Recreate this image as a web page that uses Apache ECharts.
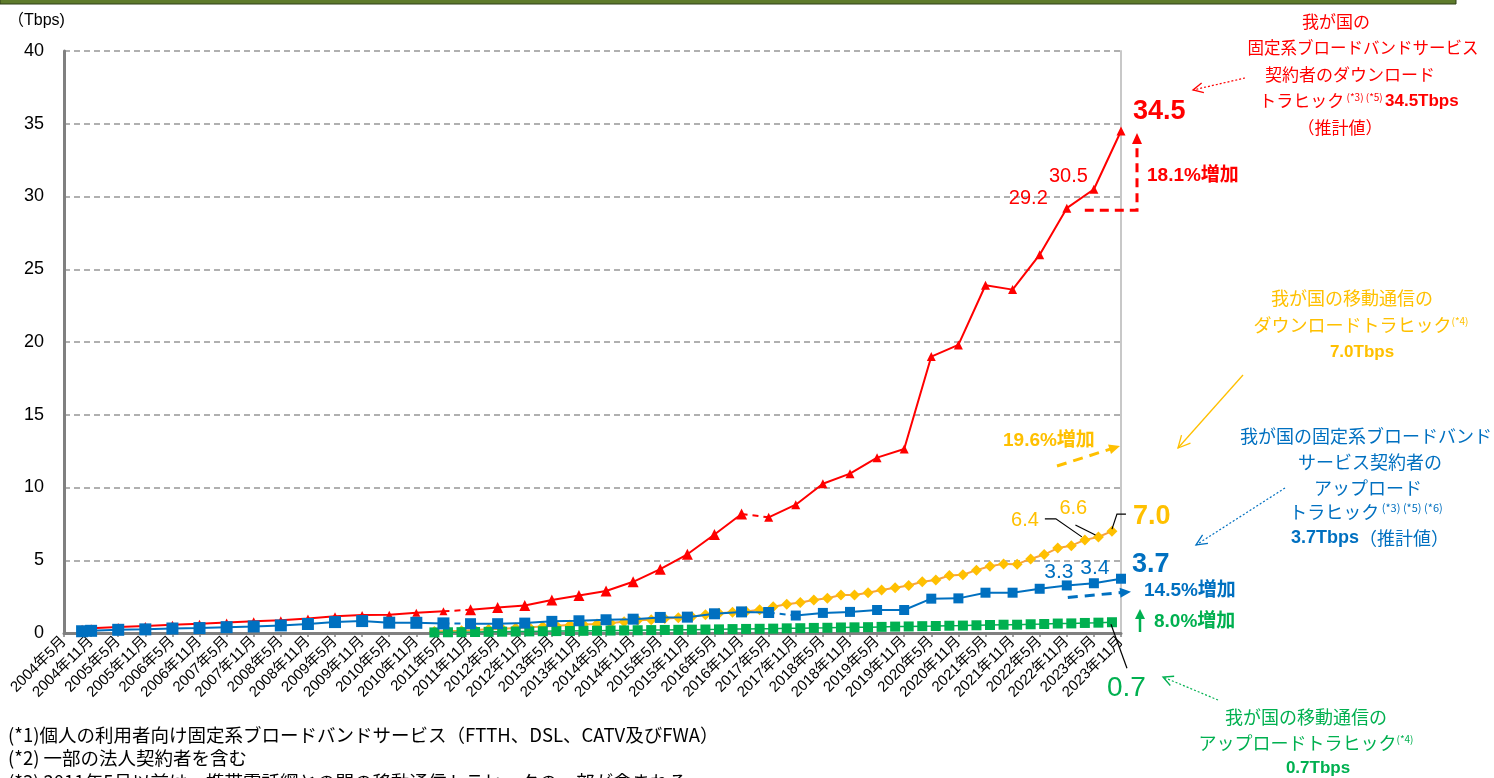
<!DOCTYPE html>
<html>
<head>
<meta charset="utf-8">
<title>ブロードバンドトラヒック</title>
<script src="https://cdn.jsdelivr.net/npm/echarts@6/dist/echarts.min.js"></script>
<style>
  html, body { margin: 0; padding: 0; background: #fff; }
  #chart { width: 1494px; height: 778px; }
</style>
</head>
<body>
<div id="chart"></div>
<script>
// 固定系ブロードバンド（半年ごと、最初だけ2004年9月）
const fixedDates = [
  "2004-09", "2004-11", "2005-05", "2005-11", "2006-05", "2006-11", "2007-05", "2007-11",
  "2008-05", "2008-11", "2009-05", "2009-11", "2010-05", "2010-11", "2011-05", "2011-11",
  "2012-05", "2012-11", "2013-05", "2013-11", "2014-05", "2014-11", "2015-05", "2015-11",
  "2016-05", "2016-11", "2017-05", "2017-11", "2018-05", "2018-11", "2019-05", "2019-11",
  "2020-05", "2020-11", "2021-05", "2021-11", "2022-05", "2022-11", "2023-05", "2023-11"
];
const fixedDown = [
  0.30, 0.32, 0.42, 0.48, 0.56, 0.64, 0.72, 0.81,
  0.88, 1.00, 1.15, 1.24, 1.26, 1.40, 1.50, 1.59,
  1.75, 1.89, 2.27, 2.57, 2.89, 3.52, 4.39, 5.41,
  6.77, 8.18, 7.95, 8.82, 10.26, 10.95, 12.05, 12.65,
  19.0, 19.8, 23.9, 23.6, 26.0, 29.2, 30.5, 34.5
];
const fixedUp = [
  0.12, 0.15, 0.22, 0.25, 0.31, 0.34, 0.40, 0.45,
  0.52, 0.62, 0.75, 0.82, 0.71, 0.70, 0.66, 0.64,
  0.64, 0.68, 0.80, 0.84, 0.91, 0.95, 1.07, 1.09,
  1.32, 1.45, 1.41, 1.20, 1.38, 1.45, 1.58, 1.58,
  2.36, 2.38, 2.77, 2.77, 3.04, 3.27, 3.42, 3.73
];
// この時点の次は点線でつなぐ（集計方法の変更）
const downBreaks = ["2011-05", "2016-11"];
const upBreaks = ["2011-05", "2017-05"];

// 移動通信（四半期ごと）
const mobileDates = [
  "2011-03", "2011-06", "2011-09", "2011-12",
  "2012-03", "2012-06", "2012-09", "2012-12",
  "2013-03", "2013-06", "2013-09", "2013-12",
  "2014-03", "2014-06", "2014-09", "2014-12",
  "2015-03", "2015-06", "2015-09", "2015-12",
  "2016-03", "2016-06", "2016-09", "2016-12",
  "2017-03", "2017-06", "2017-09", "2017-12",
  "2018-03", "2018-06", "2018-09", "2018-12",
  "2019-03", "2019-06", "2019-09", "2019-12",
  "2020-03", "2020-06", "2020-09", "2020-12",
  "2021-03", "2021-06", "2021-09", "2021-12",
  "2022-03", "2022-06", "2022-09", "2022-12",
  "2023-03", "2023-06", "2023-09"
];
const mobileDown = [
  0.10, 0.13, 0.16, 0.20,
  0.25, 0.29, 0.34, 0.39,
  0.45, 0.50, 0.55, 0.58,
  0.62, 0.68, 0.78, 0.88,
  0.91, 1.00, 1.05, 1.12,
  1.25, 1.35, 1.43, 1.48,
  1.59, 1.80, 1.98, 2.09,
  2.27, 2.39, 2.61, 2.61,
  2.77, 2.95, 3.11, 3.27,
  3.52, 3.64, 3.95, 4.00,
  4.32, 4.59, 4.75, 4.73,
  5.09, 5.39, 5.84, 6.00,
  6.40, 6.60, 7.00
];
const mobileUp = [
  0.04, 0.05, 0.06, 0.07,
  0.08, 0.09, 0.10, 0.11,
  0.12, 0.13, 0.14, 0.15,
  0.16, 0.17, 0.18, 0.19,
  0.20, 0.21, 0.22, 0.23,
  0.24, 0.25, 0.27, 0.28,
  0.29, 0.30, 0.32, 0.33,
  0.35, 0.36, 0.38, 0.39,
  0.40, 0.42, 0.44, 0.45,
  0.47, 0.48, 0.50, 0.51,
  0.53, 0.55, 0.57, 0.57,
  0.60, 0.62, 0.65, 0.66,
  0.69, 0.71, 0.74
];

const xTickLabels = [
  "2004年5月", "2004年11月", "2005年5月", "2005年11月", "2006年5月", "2006年11月",
  "2007年5月", "2007年11月", "2008年5月", "2008年11月", "2009年5月", "2009年11月",
  "2010年5月", "2010年11月", "2011年5月", "2011年11月", "2012年5月", "2012年11月",
  "2013年5月", "2013年11月", "2014年5月", "2014年11月", "2015年5月", "2015年11月",
  "2016年5月", "2016年11月", "2017年5月", "2017年11月", "2018年5月", "2018年11月",
  "2019年5月", "2019年11月", "2020年5月", "2020年11月", "2021年5月", "2021年11月",
  "2022年5月", "2022年11月", "2023年5月", "2023年11月"
];

const RED = "#FF0000", BLUE = "#0070C0", YELLOW = "#FFC000", ORANGE = "#F7A23E", GREEN = "#00B050";
const LATIN = '"Liberation Sans","Noto Sans CJK JP",sans-serif';
const JP = '"Noto Sans CJK JP",sans-serif';

// 2004年5月からの月数
const mi = s => { const [y, m] = s.split("-").map(Number); return (y - 2004) * 12 + (m - 5); };
const toPairs = (dates, vals) => dates.map((d, i) => [mi(d), vals[i]]);

// 区切りごとに実線の系列を作り、区切りの間は点線でつなぐ
function splitSeries(name, dates, vals, breaks, st) {
  const data = toPairs(dates, vals);
  const ends = breaks.map(b => dates.indexOf(b)).concat([data.length - 1]);
  const out = [];
  let start = 0;
  ends.forEach((end, k) => {
    out.push({
      name: name, type: "line", z: st.z,
      data: data.slice(start, end + 1),
      symbol: st.symbol, symbolSize: st.sizes[k],
      lineStyle: { color: st.color, width: 2 },
      itemStyle: { color: st.color },
      silent: true
    });
    if (k < ends.length - 1) {
      out.push({
        name: name, type: "line", z: st.z,
        data: [data[end], data[end + 1]],
        symbol: "none",
        lineStyle: { color: st.color, width: 2, type: [6, 5] },
        silent: true
      });
    }
    start = end + 1;
  });
  return out;
}

const chart = echarts.init(document.getElementById("chart"));

const option = {
  animation: false,
  backgroundColor: "#fff",
  grid: { left: 64, right: 373, top: 51, bottom: 145, outerBoundsMode: "none", containLabel: false },
  xAxis: {
    type: "value", min: 0, max: 234, interval: 6,
    axisLine: { show: true, onZero: false, lineStyle: { color: "#808080", width: 3 } },
    axisTick: { show: true, length: 4, lineStyle: { color: "#808080", width: 1.5 } },
    splitLine: { show: false },
    axisLabel: {
      rotate: 45, margin: 6, fontSize: 15, color: "#000", fontFamily: LATIN,
      showMinLabel: true, showMaxLabel: true, hideOverlap: false,
      formatter: v => xTickLabels[Math.round(v / 6)] || ""
    }
  },
  yAxis: [
    {
      type: "value", min: 0, max: 40, interval: 5,
      axisLine: { show: true, lineStyle: { color: "#808080", width: 3 } },
      axisTick: { show: false },
      axisLabel: { margin: 20, fontSize: 18, color: "#000", fontFamily: LATIN },
      splitLine: { show: true, lineStyle: { color: "#969696", width: 1.5, type: [6, 4] } }
    },
    {
      type: "value", min: 0, max: 40, position: "right",
      axisLine: { show: true, lineStyle: { color: "#c8c8c8", width: 2 } },
      axisTick: { show: false }, axisLabel: { show: false }, splitLine: { show: false }
    }
  ],
  series: [
    {
      name: "移動通信ダウンロード", type: "line", z: 2, silent: true,
      data: toPairs(mobileDates, mobileDown),
      symbol: "diamond", symbolSize: 11,
      lineStyle: { color: ORANGE, width: 2 },
      itemStyle: { color: YELLOW }
    },
    {
      name: "移動通信アップロード", type: "line", z: 3, silent: true,
      data: toPairs(mobileDates, mobileUp),
      symbol: "rect", symbolSize: 10,
      lineStyle: { color: GREEN, width: 1.5 },
      itemStyle: { color: GREEN }
    }
  ]
    .concat(splitSeries("固定系ダウンロード", fixedDates, fixedDown, downBreaks,
      { color: RED, symbol: "triangle", sizes: [8, 11, 9], z: 4 }))
    .concat(splitSeries("固定系アップロード", fixedDates, fixedUp, upBreaks,
      { color: BLUE, symbol: "rect", sizes: [12, 11, 10], z: 5 }))
};

chart.setOption(option);

// ---- 注記（データ点の位置から計算） ----
const P = (d, v) => chart.convertToPixel({ xAxisIndex: 0, yAxisIndex: 0 }, [mi(d), v]);

function txt(x, y, text, color, size, bold, align, family) {
  return {
    type: "text", x: x, y: y, z: 100, silent: true,
    style: {
      text: text, fill: color, align: align || "left", verticalAlign: "middle",
      font: (bold ? "bold " : "") + size + "px " + (family || LATIN)
    }
  };
}
function richTxt(x, y, text, color, rich) {
  return {
    type: "text", x: x, y: y, z: 100, silent: true,
    style: { text: text, fill: color, align: "center", verticalAlign: "middle", rich: rich }
  };
}
function line(points, color, width, dash) {
  return {
    type: "polyline", z: 90, silent: true,
    shape: { points: points },
    style: { stroke: color, lineWidth: width, fill: null, lineDash: dash || null }
  };
}
function head(x1, y1, x2, y2, len, wid, color, filled) {
  const a = Math.atan2(y2 - y1, x2 - x1);
  const c = Math.cos(a), s = Math.sin(a);
  const p1 = [x2 - len * c + wid * s, y2 - len * s - wid * c];
  const p2 = [x2 - len * c - wid * s, y2 - len * s + wid * c];
  if (filled) {
    return { type: "polygon", z: 91, silent: true, shape: { points: [p1, [x2, y2], p2] }, style: { fill: color } };
  }
  return line([p1, [x2, y2], p2], color, 1.3);
}
function arrow(x1, y1, x2, y2, color, width, dash, filled, len, wid) {
  const a = Math.atan2(y2 - y1, x2 - x1);
  const back = filled ? len * 0.8 : 0;
  return [
    line([[x1, y1], [x2 - back * Math.cos(a), y2 - back * Math.sin(a)]], color, width, dash),
    head(x1, y1, x2, y2, len, wid, color, filled)
  ];
}

const g = [];

// 上部の帯
g.push({ type: "rect", z: 100, silent: true, shape: { x: 0, y: -2, width: 1456, height: 6 },
  style: { fill: "#5E7B2C", stroke: "#2F4016", lineWidth: 1 } });
g.push(txt(8, 21, "（Tbps)", "#000", 16, false, "left", LATIN));

// 固定系ダウンロード
const r1 = P("2022-11", 29.2), r2 = P("2023-05", 30.5), r3 = P("2023-11", 34.5);
g.push(txt(r1[0] - 19, r1[1] - 10, "29.2", RED, 20, false, "right"));
g.push(txt(r2[0] - 6, r2[1] - 13, "30.5", RED, 20, false, "right"));
g.push(txt(r3[0] + 12, r3[1] - 19, "34.5", RED, 27, true));
const xr = r3[0] + 16;
g.push(line([[r1[0] + 18, r1[1] + 2], [xr, r1[1] + 2], [xr, r3[1] + 10]], RED, 3, [9, 6]));
g.push(head(xr, r1[1], xr, r3[1] + 2, 11, 5, RED, true));
g.push(txt(xr + 10, r3[1] + 45, "18.1%増加", RED, 19, true));

// 移動通信ダウンロード
const y48 = P(mobileDates[48], mobileDown[48]);
const y49 = P(mobileDates[49], mobileDown[49]);
const y50 = P(mobileDates[50], mobileDown[50]);
g.push(txt(y48[0] - 46, y48[1] - 19, "6.4", YELLOW, 20, false, "right"));
g.push(line([[y48[0] - 40, y48[1] - 21], [y48[0] - 29, y48[1] - 21], [y48[0] - 3, y48[1] - 3]], "#000", 1.2));
g.push(txt(y49[0] - 39, y49[1] - 28, "6.6", YELLOW, 20, false, "left"));
g.push(line([[y49[0] - 23, y49[1] - 12], [y49[0] - 3, y49[1] - 2]], "#000", 1.2));
g.push(txt(y50[0] + 21, y50[1] - 15, "7.0", YELLOW, 27, true));
g.push(line([[y50[0], y50[1] - 2], [y50[0] + 5, y50[1] - 17], [y50[0] + 14, y50[1] - 17]], "#000", 1.2));
g.push(txt(1003, 441, "19.6%増加", YELLOW, 19, true));
arrow(1057, 466, 1120, 446, YELLOW, 3, [10, 7], true, 11, 5).forEach(e => g.push(e));

// 固定系アップロード
const b1 = P("2022-11", fixedUp[37]), b2 = P("2023-05", fixedUp[38]), b3 = P("2023-11", fixedUp[39]);
g.push(txt(b1[0] - 8, b1[1] - 13, "3.3", BLUE, 21, false, "center"));
g.push(txt(b2[0] + 1, b2[1] - 15, "3.4", BLUE, 21, false, "center"));
g.push(txt(b3[0] + 11, b3[1] - 14, "3.7", BLUE, 27, true));
g.push(txt(b3[0] + 23, b3[1] + 12, "14.5%増加", BLUE, 19, true));
arrow(b1[0] + 1, b1[1] + 12, b3[0] + 10, b3[1] + 13, BLUE, 3, [10, 7], true, 11, 5).forEach(e => g.push(e));

// 移動通信アップロード
const gr = P(mobileDates[50], mobileUp[50]);
const y0 = P("2023-11", 0)[1];
arrow(b3[0] + 19, y0 - 1, b3[0] + 19, y0 - 24, GREEN, 2.5, null, true, 10, 5).forEach(e => g.push(e));
g.push(txt(b3[0] + 33, y0 - 11, "8.0%増加", GREEN, 19, true));
g.push(txt(gr[0] - 5, gr[1] + 66, "0.7", GREEN, 28, false));
g.push(line([[gr[0] - 1, gr[1] + 2], [gr[0] + 15, gr[1] + 46]], "#000", 1.2));

// 右側の説明
g.push(txt(1336, 22, "我が国の", RED, 17, false, "center", JP));
g.push(txt(1363, 48, "固定系ブロードバンドサービス", RED, 16.5, false, "center", JP));
g.push(txt(1350, 75, "契約者のダウンロード", RED, 17, false, "center", JP));
g.push(richTxt(1359, 101, "{n|トラヒック}{s| (*3) (*5) }{b|34.5Tbps}", RED, {
  n: { fontSize: 17, fontFamily: JP, fill: RED },
  s: { fontSize: 10, fontFamily: JP, fill: RED, verticalAlign: "top", padding: [0, 0, 8, 0] },
  b: { fontSize: 17, fontWeight: "bold", fontFamily: LATIN, fill: RED }
}));
g.push(txt(1340, 128, "（推計値）", RED, 17, false, "center", JP));
arrow(1245, 78, 1193, 90, RED, 1.2, [2, 2], false, 10, 5).forEach(e => g.push(e));

g.push(txt(1352, 298, "我が国の移動通信の", YELLOW, 18, false, "center", JP));
g.push(richTxt(1361, 325, "{n|ダウンロードトラヒック}{s|(*4)}", YELLOW, {
  n: { fontSize: 18, fontFamily: JP, fill: YELLOW },
  s: { fontSize: 10, fontFamily: JP, fill: YELLOW, padding: [0, 0, 8, 0] }
}));
g.push(txt(1362, 352, "7.0Tbps", YELLOW, 17, true, "center"));
arrow(1243, 375, 1178, 448, YELLOW, 1.3, null, false, 12, 6).forEach(e => g.push(e));

g.push(txt(1366, 436, "我が国の固定系ブロードバンド", BLUE, 18, false, "center", JP));
g.push(txt(1370, 462, "サービス契約者の", BLUE, 18, false, "center", JP));
g.push(txt(1368, 488, "アップロード", BLUE, 18, false, "center", JP));
g.push(richTxt(1366, 512, "{n|トラヒック}{s| (*3) (*5) (*6)}", BLUE, {
  n: { fontSize: 18, fontFamily: JP, fill: BLUE },
  s: { fontSize: 11, fontFamily: JP, fill: BLUE, padding: [0, 0, 8, 0] }
}));
g.push(richTxt(1370, 538, "{b|3.7Tbps}{n|（推計値）}", BLUE, {
  n: { fontSize: 18, fontFamily: JP, fill: BLUE },
  b: { fontSize: 18, fontWeight: "bold", fontFamily: LATIN, fill: BLUE }
}));
arrow(1285, 488, 1196, 545, BLUE, 1.2, [2, 2], false, 11, 5).forEach(e => g.push(e));

g.push(txt(1306, 717, "我が国の移動通信の", GREEN, 18, false, "center", JP));
g.push(richTxt(1306, 743, "{n|アップロードトラヒック}{s|(*4)}", GREEN, {
  n: { fontSize: 18, fontFamily: JP, fill: GREEN },
  s: { fontSize: 10, fontFamily: JP, fill: GREEN, padding: [0, 0, 8, 0] }
}));
g.push(txt(1318, 768, "0.7Tbps", GREEN, 17, true, "center"));
arrow(1218, 700, 1163, 677, GREEN, 1.2, [2, 2], false, 10, 5).forEach(e => g.push(e));

// 脚注
g.push(txt(8, 735, "(*1)個人の利用者向け固定系ブロードバンドサービス（FTTH、DSL、CATV及びFWA）", "#000", 18.5, false, "left", JP));
g.push(txt(8, 758, "(*2) 一部の法人契約者を含む", "#000", 18.5, false, "left", JP));
g.push(txt(8, 782, "(*3) 2011年5月以前は、携帯電話網との間の移動通信トラヒックの一部が含まれる", "#000", 18.5, false, "left", JP));

chart.setOption({ graphic: { elements: g } });

window.addEventListener("resize", function () {
  chart.resize();
});
</script>
</body>
</html>
